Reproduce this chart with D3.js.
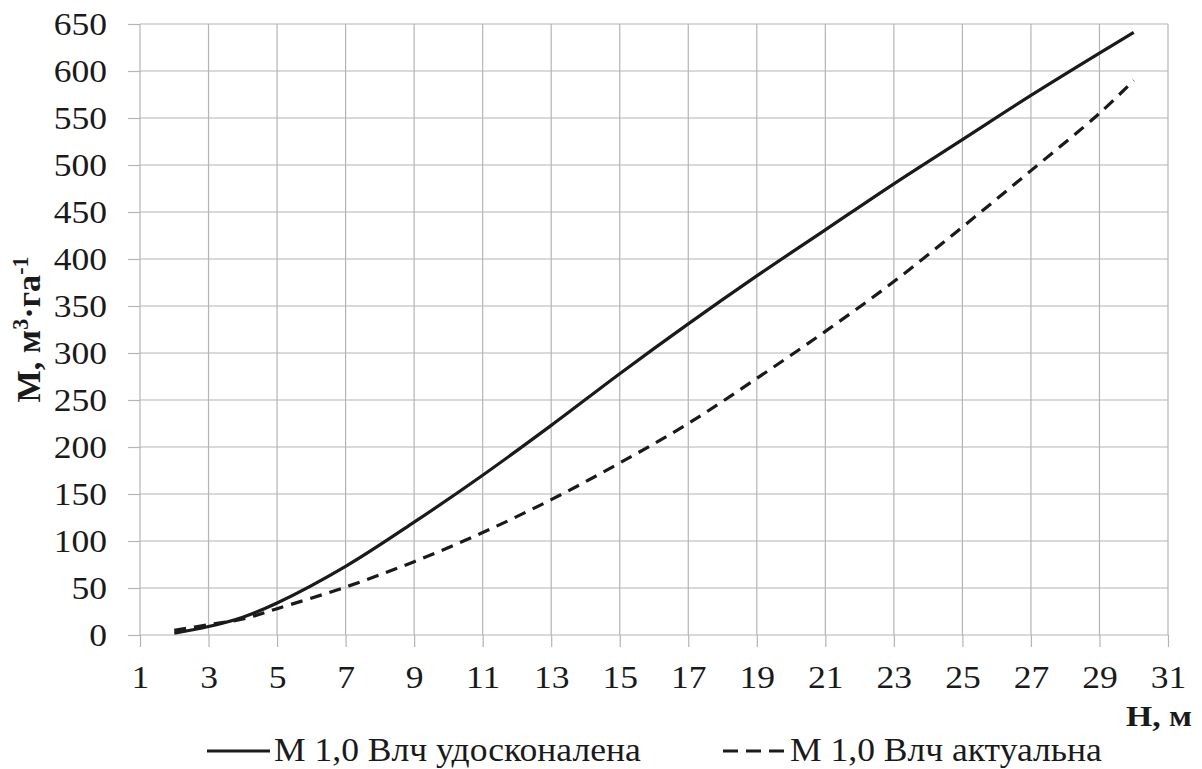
<!DOCTYPE html>
<html>
<head>
<meta charset="utf-8">
<script src="https://cdn.jsdelivr.net/npm/d3@7"></script>
</head>
<body style="margin:0; background:#fff">
<script>
// heights, m
var heights = [2, 3, 4, 5, 7, 9, 11, 13, 15, 17, 19, 21, 23, 25, 27, 29, 30];
// M 1,0 Влч удосконалена
var improved = [2, 9, 19, 34, 73, 120, 170, 223, 278, 331, 382, 431, 480, 527, 574, 619, 641];
// M 1,0 Влч актуальна
var actual = [5, 11, 17, 28, 51, 78, 109, 144, 183, 225, 273, 323, 376, 434, 494, 555, 590];

var xTicks = d3.range(1, 32, 2);
var yTicks = d3.range(0, 651, 50);
var seriesNames = ["М 1,0 Влч удосконалена", "М 1,0 Влч актуальна"];

var svgWidth = 1202, svgHeight = 769;
var margin = { top: 24, right: 34, bottom: 134, left: 140 };
var width = svgWidth - margin.left - margin.right;
var height = svgHeight - margin.top - margin.bottom;

// the serif regular face only renders at small sizes here, so text is set at 28px and scaled
var serif = "Liberation Serif";
var baseSize = 28;
var ink = "#1a1a1a";
var gridColor = "#b4b4b4";

// scale a text about the origin while keeping its x/y position
function stretch(sel, sx, sy) {
  sel.each(function() {
    var t = d3.select(this);
    var x0 = +t.attr("x") || 0, y0 = +t.attr("y") || 0;
    t.attr("x", x0 / sx).attr("y", y0 / sy)
      .attr("transform", `scale(${sx}, ${sy})`);
  });
}

var svg = d3.select("body").append("svg")
  .attr("width", svgWidth)
  .attr("height", svgHeight);

var chartGroup = svg.append("g")
  .attr("transform", `translate(${margin.left}, ${margin.top})`);

var x = d3.scaleLinear().domain([1, 31]).range([0, width]);
var y = d3.scaleLinear().domain([0, 650]).range([height, 0]);

// grid
chartGroup.append("g").selectAll("line")
  .data(yTicks).enter().append("line")
  .attr("x1", 0).attr("x2", width)
  .attr("y1", d => y(d)).attr("y2", d => y(d))
  .attr("stroke", gridColor).attr("stroke-width", 1.2);

chartGroup.append("g").selectAll("line")
  .data(xTicks).enter().append("line")
  .attr("x1", d => x(d)).attr("x2", d => x(d))
  .attr("y1", 0).attr("y2", height)
  .attr("stroke", gridColor).attr("stroke-width", 1.2);

// axes
var leftAxis = d3.axisLeft(y).tickValues(yTicks).tickSize(12).tickPadding(21);
var bottomAxis = d3.axisBottom(x).tickValues(xTicks).tickSize(12);

var yAxisG = chartGroup.append("g").call(leftAxis);
var xAxisG = chartGroup.append("g")
  .attr("transform", `translate(0, ${height})`)
  .call(bottomAxis);

[yAxisG, xAxisG].forEach(function(g) {
  g.select(".domain").remove();
  g.selectAll(".tick line").attr("stroke", gridColor).attr("stroke-width", 1.2);
  g.selectAll(".tick text")
    .attr("font-family", serif)
    .attr("font-weight", 400)
    .attr("font-size", baseSize)
    .attr("fill", ink);
});
yAxisG.selectAll(".tick text").attr("dy", "0.34em");
xAxisG.selectAll(".tick text").attr("y", 53).attr("dy", 0);
stretch(yAxisG.selectAll(".tick text"), 1.27, 1.15);
stretch(xAxisG.selectAll(".tick text"), 1.27, 1.15);

// lines
var line = d3.line()
  .x((d, i) => x(heights[i]))
  .y(d => y(d))
  .curve(d3.curveCatmullRom.alpha(0.5));

chartGroup.append("path")
  .datum(improved)
  .attr("fill", "none")
  .attr("stroke", ink)
  .attr("stroke-width", 3.2)
  .attr("d", line);

chartGroup.append("path")
  .datum(actual)
  .attr("fill", "none")
  .attr("stroke", ink)
  .attr("stroke-width", 3.2)
  .attr("stroke-dasharray", "12,8")
  .attr("d", line);

// y axis title
var yTitleG = svg.append("g")
  .attr("transform", `translate(40, ${margin.top + height / 2}) rotate(-90)`);
var yTitle = yTitleG.append("text")
  .attr("text-anchor", "middle")
  .attr("font-family", serif)
  .attr("font-size", baseSize)
  .attr("font-weight", 700)
  .attr("fill", ink);
yTitle.append("tspan").text("M, м");
yTitle.append("tspan").text("3").attr("dy", -10).attr("font-size", 18);
yTitle.append("tspan").text("·га").attr("dy", 10);
yTitle.append("tspan").text("-1").attr("dy", -10).attr("font-size", 18);
var yTitleLen = yTitle.node().getComputedTextLength();
stretch(yTitle, 146 / yTitleLen, 1.24);

// x axis title
var xTitle = svg.append("text")
  .attr("x", 1192)
  .attr("y", 726)
  .attr("text-anchor", "end")
  .attr("font-family", serif)
  .attr("font-size", baseSize)
  .attr("font-weight", 700)
  .attr("fill", ink)
  .text("H, м");
stretch(xTitle, 66 / xTitle.node().getComputedTextLength(), 1.08);

// legend
var legend = svg.append("g");
var legendItems = [
  { name: seriesNames[0], x: 207, dash: null },
  { name: seriesNames[1], x: 723, dash: "15,8" }
];
var legendTexts = [];
legendItems.forEach(function(item) {
  legend.append("line")
    .attr("x1", item.x).attr("x2", item.x + 63)
    .attr("y1", 751).attr("y2", 751)
    .attr("stroke", ink)
    .attr("stroke-width", 3.2)
    .attr("stroke-dasharray", item.dash);
  legendTexts.push(legend.append("text")
    .attr("x", item.x + 67)
    .attr("y", 761)
    .attr("font-family", serif)
    .attr("font-weight", 400)
    .attr("font-size", baseSize)
    .attr("fill", ink)
    .text(item.name));
});
var legendSx = 367 / legendTexts[0].node().getComputedTextLength();
legendTexts.forEach(t => stretch(t, legendSx, 1.2));
</script>
</body>
</html>
